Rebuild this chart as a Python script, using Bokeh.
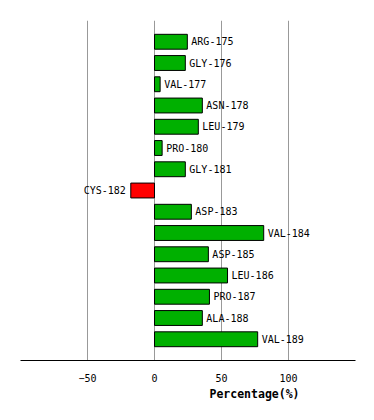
from bokeh.plotting import figure
from bokeh.models import ColumnDataSource, Range1d, FixedTicker, Title
from bokeh.core.properties import value
from bokeh.embed import file_html
from bokeh.resources import INLINE

residues = ["ARG-175", "GLY-176", "VAL-177", "ASN-178", "LEU-179", "PRO-180", "GLY-181",
            "CYS-182", "ASP-183", "VAL-184", "ASP-185", "LEU-186", "PRO-187", "ALA-188", "VAL-189"]
percentages = [24.5, 23.0, 4.2, 35.7, 32.7, 5.7, 23.0, -17.7, 27.5, 81.5, 40.2, 54.5, 41.0, 35.7, 77.0]
x_ticks = [-50, 0, 50, 100]

rows = list(range(1, len(residues) + 1))
colors = ["#00B000" if v >= 0 else "#FF0000" for v in percentages]
pos_idx = [i for i, v in enumerate(percentages) if v >= 0]
neg_idx = [i for i, v in enumerate(percentages) if v < 0]

src = ColumnDataSource(dict(y=rows, v=percentages, c=colors, name=residues))
pos = ColumnDataSource(dict(y=[rows[i] for i in pos_idx], v=[percentages[i] for i in pos_idx],
                            name=[residues[i] for i in pos_idx]))
neg = ColumnDataSource(dict(y=[rows[i] for i in neg_idx], v=[percentages[i] for i in neg_idx],
                            name=[residues[i] for i in neg_idx]))

p = figure(width=366, height=412, output_backend="svg", toolbar_location=None,
           x_range=Range1d(-100, 150), y_range=Range1d(len(residues) + 1, 0),
           min_border_left=20, min_border_right=11, min_border_top=20, min_border_bottom=52)
p.outline_line_color = None
p.yaxis.visible = False
p.ygrid.visible = False
p.xgrid.ticker = FixedTicker(ticks=x_ticks)
p.xgrid.grid_line_color = "#999999"
p.xgrid.grid_line_width = 1

p.hbar(y="y", left=0, right="v", height=0.7, fill_color="c", line_color="black",
       line_width=1, source=src)

p.text(x="v", y="y", text="name", source=pos, x_offset=4, text_align="left",
       text_baseline="middle", text_font=value("DejaVu Sans Mono"), text_font_size="10px",
       text_color="black")
p.text(x="v", y="y", text="name", source=neg, x_offset=-5, text_align="right",
       text_baseline="middle", text_font=value("DejaVu Sans Mono"), text_font_size="10px",
       text_color="black")

ax = p.xaxis[0]
ax.ticker = FixedTicker(ticks=x_ticks)
ax.axis_line_color = "black"
ax.axis_line_width = 1
ax.major_tick_line_color = None
ax.minor_tick_line_color = None
ax.major_label_text_font = "DejaVu Sans Mono"
ax.major_label_text_font_size = "10px"
ax.major_label_text_color = "black"
ax.major_label_standoff = 7

p.add_layout(Title(text="Percentage(%)", align="left", offset=189,
                   text_font="DejaVu Sans Mono", text_font_size="11.5px",
                   text_font_style="bold", text_color="black", standoff=0), "below")

open("out.html", "w").write(file_html(p, INLINE))
